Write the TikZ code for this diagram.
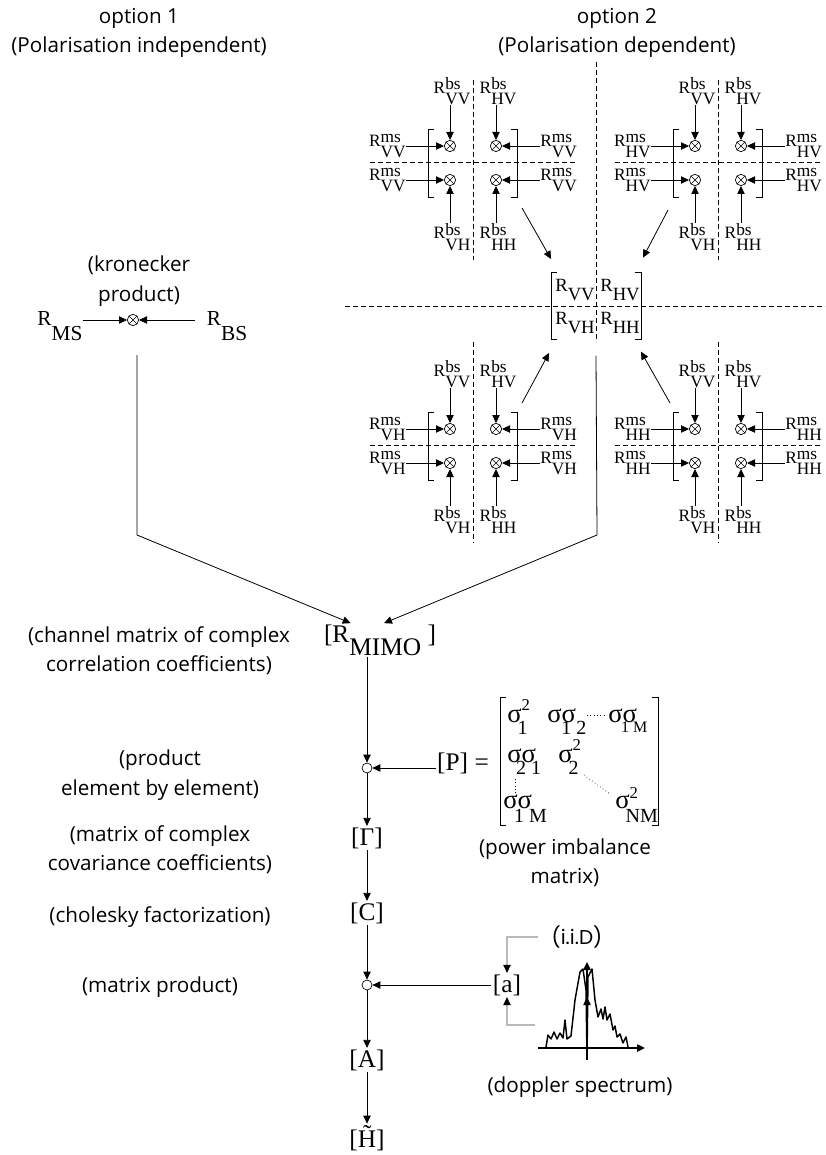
\documentclass[tikz,border=0pt]{standalone}
\usepackage{fontspec}
\setmainfont{Liberation Serif}
\newfontfamily\cfont{Open Sans}
\newfontfamily\gfont{Poppins}
\usetikzlibrary{arrows.meta}

% R with stacked super/subscript, sigma entries
\newcommand{\Rs}[2]{R\raisebox{0.2em}{\vtop{\baselineskip=0.85em\lineskiplimit=-2em\hbox{#1}\hbox{#2}}}}
\newcommand{\Rsub}[2][0.45em]{R\raisebox{-#1}{#2}}
\newcommand{\sg}[1]{{\fontsize{20}{22}\selectfont #1}}
\newcommand{\Ss}[3]{\sg{σ}\rlap{\raisebox{#1}{2}}\kern-3pt\raisebox{-#2}{\fontsize{15}{17}\selectfont #3}}
\newcommand{\Sd}[3]{\sg{σσ}\kern#1\raisebox{-#2}{\fontsize{15}{17}\selectfont #3}}

\tikzset{
  ar/.style={-{Triangle[length=6pt,width=5.5pt]},line width=0.6pt},
  gar/.style={-{Triangle[length=6pt,width=5.5pt,color=black]},draw=gray!55,line width=0.8pt},
  dsh/.style={dash pattern=on 3.5pt off 2.5pt,line width=0.5pt},
  brk/.style={line width=0.6pt},
  ox/.style={circle,draw,line width=0.5pt,inner sep=0pt,minimum size=8.5pt,
    path picture={\draw[line width=0.4pt] (path picture bounding box.north west) -- (path picture bounding box.south east)
      (path picture bounding box.north east) -- (path picture bounding box.south west);}},
  dot/.style={circle,draw,fill=white,line width=0.5pt,inner sep=0pt,minimum size=7.5pt},
  lbl/.style={font=\fontsize{13}{15}\selectfont,inner sep=0pt},
  lbm/.style={font=\fontsize{14}{16}\selectfont,inner sep=0pt},
  mat/.style={font=\fontsize{19}{22}\selectfont,inner sep=1pt},
  ent/.style={font=\fontsize{12.5}{14}\selectfont,inner sep=0pt,anchor=base west},
  cmt/.style={font=\cfont\fontsize{15.5}{22}\selectfont,align=center,inner sep=1pt},
}

\begin{document}
\begin{tikzpicture}[x=0.75pt,y=-0.75pt]
\useasboundingbox (0,0) rectangle (825,1155);

% headings
\node[cmt] (op1) at (139,33) {option 1\\(Polarisation independent)};
\node[cmt] (op2) at (617,33) {option 2\\(Polarisation dependent)};

% option 1
\node[cmt] (krt) at (139,281) {(kronecker\\product)};
\node[ox] (kr) at (133,320) {};
\node[font=\fontsize{16}{18}\selectfont,inner sep=0pt] (RMS) at (60,326) {\Rsub[0.7em]{MS}};
\node[font=\fontsize{16}{18}\selectfont,inner sep=0pt] (RBS) at (227,326) {\Rsub[0.7em]{BS}};
\draw[ar] (RMS.east |- kr) -- (kr);
\draw[ar] ([xshift=-9pt]RBS.west |- kr) -- (kr);

% option 2: the four blocks
\foreach \cx/\cy/\ty/\ms/\b in {473/162/82/VV/1,718/162/82/HV/2,473/445/103/VH/3,718/445/103/HH/4}{
  \draw[dsh] ({\cx-103},\cy) -- ({\cx+103},\cy);
  \draw[dsh] (\cx,{\cy-\ty}) -- (\cx,{\cy+98});
  \draw[brk] ({\cx-39},{\cy-33}) -- ({\cx-45},{\cy-33}) -- ({\cx-45},{\cy+35}) -- ({\cx-39},{\cy+35});
  \draw[brk] ({\cx+38},{\cy-33}) -- ({\cx+44},{\cy-33}) -- ({\cx+44},{\cy+35}) -- ({\cx+38},{\cy+35});
  \node[ox] (o\b1) at ({\cx-23},{\cy-16}) {};
  \node[ox] (o\b2) at ({\cx+23},{\cy-16}) {};
  \node[ox] (o\b3) at ({\cx-23},{\cy+18}) {};
  \node[ox] (o\b4) at ({\cx+23},{\cy+18}) {};
  \node[lbl,anchor=south] (t\b1) at ({\cx-21},{\cy-57}) {\Rs{bs}{VV}};
  \node[lbl,anchor=south] (t\b2) at ({\cx+25},{\cy-57}) {\Rs{bs}{HV}};
  \node[lbl,anchor=north] (d\b1) at ({\cx-21},{\cy+61}) {\Rs{bs}{VH}};
  \node[lbl,anchor=north] (d\b2) at ({\cx+25},{\cy+61}) {\Rs{bs}{HH}};
  \node[lbl,anchor=east] (l\b1) at ({\cx-67},{\cy-16}) {\Rs{ms}{\ms}};
  \node[lbl,anchor=east] (l\b2) at ({\cx-67},{\cy+18}) {\Rs{ms}{\ms}};
  \node[lbl,anchor=west] (r\b1) at ({\cx+67},{\cy-16}) {\Rs{ms}{\ms}};
  \node[lbl,anchor=west] (r\b2) at ({\cx+67},{\cy+18}) {\Rs{ms}{\ms}};
  \draw[ar] (t\b1.south -| o\b1) -- (o\b1);
  \draw[ar] (t\b2.south -| o\b2) -- (o\b2);
  \draw[ar] (d\b1.north -| o\b3) -- (o\b3);
  \draw[ar] (d\b2.north -| o\b4) -- (o\b4);
  \draw[ar] (l\b1.east |- o\b1) -- (o\b1);
  \draw[ar] (l\b2.east |- o\b3) -- (o\b3);
  \draw[ar] (r\b1.west |- o\b2) -- (o\b2);
  \draw[ar] (r\b2.west |- o\b4) -- (o\b4);
}

% polarisation matrix
\draw[dsh] (596,62) -- (596,342);
\draw[dsh] (345,306) -- (825,306);
\node[minimum width=67pt,minimum height=50pt,inner sep=0pt] (Rm) at (596,306) {};
\draw[brk] ([xshift=4.5pt]Rm.north west) -- (Rm.north west) -- (Rm.south west) -- ([xshift=4.5pt]Rm.south west);
\draw[brk] ([xshift=-4.5pt]Rm.north east) -- (Rm.north east) -- (Rm.south east) -- ([xshift=-4.5pt]Rm.south east);
\node[lbm] (RVV) at (575,290) {\Rsub{VV}};
\node[lbm] (RHV) at (620,290) {\Rsub{HV}};
\node[lbm] (RVH) at (575,323) {\Rsub{VH}};
\node[lbm] (RHH) at (620,323) {\Rsub{HH}};
\coordinate (s1) at (522,208);
\coordinate (s2) at (668,210);
\coordinate (s3) at (522,403);
\coordinate (s4) at (670,403);
\draw[ar] (s1) -- ([yshift=10pt]Rm.north west);
\draw[ar] (s2) -- ([shift={(1.5pt,11pt)}]Rm.north east);
\draw[ar] (s3) -- ([shift={(-1.5pt,-10pt)}]Rm.south west);
\draw[ar] (s4) -- ([yshift=-9pt]Rm.south east);

% main chain
\node[mat] (Rmimo) at (380,640) {[\Rsub[0.5em]{MIMO} ]};
\coordinate (k0) at (137,355);
\coordinate (k1) at (137,535);
\coordinate (m1) at (597,535);
\draw[ar] (k0) -- (k1) -- ([xshift=-22pt]Rmimo.north);
\draw[ar] ([yshift=-12pt]Rm.south) -- (m1) -- ([xshift=3pt]Rmimo.north);

\node[dot] (c1) at (367,768) {};
\node[mat] (G) at (367,838) {[Γ]};
\node[mat] (C) at (367,913) {[C]};
\node[dot] (c2) at (367,985) {};
\node[mat] (A) at (367,1060) {[A]};
\node[mat] (H) at (367,1138) {[\~{H}]};
\draw[ar] (Rmimo.south -| c1) -- (c1);
\draw[ar] (c1) -- (G);
\draw[ar] (G) -- (C);
\draw[ar] (C) -- (c2);
\draw[ar] (c2) -- (A);
\draw[ar] (A) -- (H);

% comments on the left
\node[cmt] (cm1) at (159,651) {(channel matrix of complex\\correlation coefficients)};
\node[cmt] (cm2) at (160,775) {(product\\element by element)};
\node[cmt] (cm3) at (160,850) {(matrix of complex\\covariance coefficients)};
\node[cmt] (cm4) at (160,917) {(cholesky factorization)};
\node[cmt] (cm5) at (160,987) {(matrix product)};

% power imbalance matrix
\node[mat] (Pn) at (463,763) {[P] =};
\draw[ar] (Pn.west |- c1) -- (c1);
\draw[brk] (506,697) -- (500,697) -- (500,825) -- (506,825);
\draw[brk] (652,697) -- (658,697) -- (658,825) -- (652,825);
\node[ent] (p11) at (507,722) {\Ss{9pt}{9.5pt}{1}};
\node[ent] (p12) at (547,722) {\Sd{-11pt}{9.5pt}{1 2}};
\node[ent] (p1M) at (608,722) {\Sd{-12pt}{8pt}{\fontsize{12}{14}\selectfont 1 M}};
\node[ent] (p21) at (507,762) {\Sd{-15pt}{9.5pt}{2\ 1}};
\node[ent] (p22) at (558,762) {\Ss{9pt}{9.5pt}{2}};
\node[ent] (pM1) at (503,808) {\Sd{-13.5pt}{11pt}{1 M}};
\node[ent] (pNM) at (615,808) {\Ss{7.5pt}{11pt}{NM}};
\draw[dotted,line width=0.5pt] (587,715) -- (607,715);
\draw[dotted,line width=0.5pt] (515,779) -- (515,797);
\draw[dotted,line width=0.5pt] (584,775) -- (610,794);
\node[cmt] (cm6) at (565,863) {(power imbalance\\matrix)};

% i.i.D and doppler spectrum
\node[mat] (an) at (507,985) {[a]};
\node[font=\gfont\fontsize{15}{18}\selectfont,inner sep=1pt] (iid) at (577,937) {(i.i.D)};
\coordinate (sp) at (535,1025);
\draw[gar] ([xshift=-9pt]iid.west) -| (an);
\draw[gar] (sp) -| (an);
\draw[ar] (an) -- (c2);
\draw[ar,line width=1pt] (538,1048) -- (645,1048);
\draw[ar,line width=1pt] (587,1060) -- (587,962);
\draw[ar,line width=1pt] (587,1012) -- (587,997);
\draw[line width=1.1pt,line join=round] (546,1047) -- (548,1035) -- (551,1039) -- (554,1032) -- (557,1039) -- (560,1033) -- (563,1038) -- (565,1020) -- (567,1039) -- (571,1036) -- (575,1000) -- (580,972) -- (583,969) -- (586,990) -- (587,1058) -- (588,977) -- (592,969) -- (595,1000) -- (598,1017) -- (601,1009) -- (603,1019) -- (605,1007) -- (607,1020) -- (610,1014) -- (613,1030) -- (615,1026) -- (617,1037) -- (620,1034) -- (623,1043) -- (626,1037) -- (628,1047);
\node[cmt] (cm7) at (580,1087) {(doppler spectrum)};
\end{tikzpicture}
\end{document}
